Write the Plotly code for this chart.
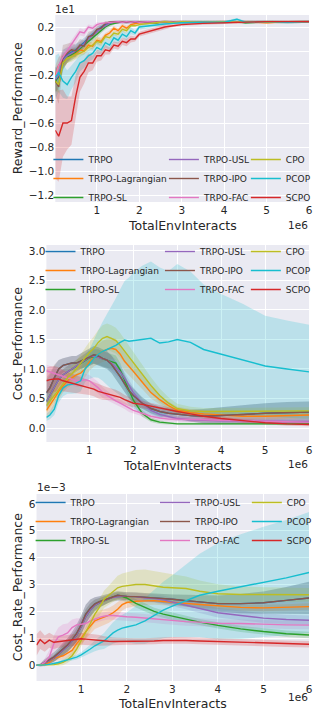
import plotly.graph_objects as go

# ---------------- data ----------------
NAMES = ["TRPO", "TRPO-Lagrangian", "TRPO-SL", "TRPO-USL", "TRPO-IPO",
         "TRPO-FAC", "CPO", "PCOP", "SCPO"]
COLORS = ["#1f77b4", "#ff7f0e", "#2ca02c", "#9467bd", "#8c564b",
          "#e377c2", "#bcbd22", "#17becf", "#d62728"]

# x in units of 1e6 interactions
X1 = [0.02, 0.1, 0.2, 0.3, 0.4, 0.5, 0.6, 0.7, 0.8, 0.9, 1.0, 1.1, 1.2, 1.3, 1.4, 1.5,
      1.6, 1.7, 1.8, 1.9, 2.0, 2.2, 2.4, 2.6, 2.8, 3.0, 3.5, 4.0, 4.3, 4.5, 5.0, 5.5, 6.0]
X2 = [0.02, 0.1, 0.2, 0.3, 0.4, 0.5, 0.6, 0.7, 0.8, 0.9, 1.0, 1.1, 1.2, 1.3, 1.4, 1.5,
      1.6, 1.7, 1.8, 1.9, 2.0, 2.2, 2.4, 2.6, 2.8, 3.0, 3.3, 3.6, 4.0, 4.5, 5.0, 5.5, 6.0]

# Reward_Performance (units of 1e1)
reward_TRPO = [-0.24, -0.22, -0.07, -0.03, -0.01, 0.01, 0.04, 0.07, 0.11, 0.14, 0.17, 0.20, 0.22, 0.235, 0.24, 0.245,
               0.24, 0.245, 0.24, 0.245, 0.24, 0.245, 0.24, 0.245, 0.24, 0.245, 0.24, 0.245, 0.24, 0.245, 0.24, 0.245, 0.245]
reward_LAG = [-0.20, -0.12, -0.08, -0.05, -0.03, -0.02, 0.01, 0.00, 0.05, 0.04, 0.09, 0.08, 0.13, 0.15, 0.19, 0.17,
              0.21, 0.19, 0.22, 0.23, 0.235, 0.24, 0.235, 0.245, 0.24, 0.245, 0.235, 0.245, 0.24, 0.245, 0.235, 0.245, 0.245]
reward_SL = [-0.26, -0.20, -0.10, -0.05, -0.03, -0.01, 0.02, 0.05, 0.08, 0.11, 0.14, 0.17, 0.20, 0.22, 0.23, 0.24,
             0.245, 0.24, 0.245, 0.24, 0.245, 0.24, 0.235, 0.245, 0.24, 0.24, 0.245, 0.24, 0.245, 0.235, 0.245, 0.24, 0.245]
reward_USL = [-0.24, -0.20, -0.08, -0.04, -0.02, 0.00, 0.03, 0.06, 0.10, 0.13, 0.16, 0.19, 0.21, 0.23, 0.24, 0.245,
              0.24, 0.245, 0.24, 0.245, 0.24, 0.245, 0.24, 0.245, 0.24, 0.245, 0.24, 0.245, 0.24, 0.245, 0.24, 0.245, 0.245]
reward_IPO = [-0.25, -0.30, -0.05, -0.02, 0.01, 0.00, 0.05, 0.04, 0.12, 0.13, 0.18, 0.19, 0.23, 0.24, 0.245, 0.24,
              0.245, 0.24, 0.245, 0.24, 0.245, 0.24, 0.245, 0.24, 0.245, 0.24, 0.245, 0.24, 0.245, 0.24, 0.245, 0.24, 0.245]
reward_FAC = [-0.22, -0.12, -0.05, 0.00, 0.05, 0.10, 0.16, 0.15, 0.20, 0.19, 0.22, 0.23, 0.235, 0.24, 0.245, 0.245,
              0.24, 0.245, 0.24, 0.245, 0.24, 0.245, 0.24, 0.245, 0.24, 0.245, 0.24, 0.245, 0.24, 0.245, 0.24, 0.245, 0.245]
reward_CPO = [-0.25, -0.28, -0.10, -0.06, -0.05, -0.03, -0.02, 0.00, 0.03, 0.05, 0.08, 0.07, 0.12, 0.11, 0.15, 0.14,
              0.18, 0.17, 0.21, 0.21, 0.22, 0.23, 0.24, 0.245, 0.235, 0.245, 0.24, 0.245, 0.24, 0.245, 0.24, 0.245, 0.245]
reward_PCOP = [-0.22, -0.18, -0.25, -0.28, -0.22, -0.17, -0.10, -0.08, -0.04, -0.02, 0.03, 0.01, 0.07, 0.05, 0.11, 0.09,
               0.14, 0.12, 0.17, 0.15, 0.20, 0.21, 0.22, 0.225, 0.23, 0.235, 0.24, 0.24, 0.265, 0.24, 0.245, 0.24, 0.245]
reward_SCPO = [-0.66, -0.71, -0.60, -0.60, -0.58, -0.38, -0.22, -0.17, -0.10, -0.10, -0.04, -0.04, 0.01, 0.00, 0.05, 0.04,
               0.08, 0.07, 0.10, 0.10, 0.14, 0.16, 0.18, 0.20, 0.21, 0.22, 0.23, 0.235, 0.24, 0.24, 0.245, 0.245, 0.245]

reward_sd_TRPO = [0.10, 0.10, 0.08, 0.06, 0.05, 0.05, 0.04, 0.04, 0.03, 0.03, 0.03, 0.02, 0.02, 0.01, 0.01, 0.01,
                  0.01, 0.01, 0.01, 0.01, 0.01, 0.01, 0.01, 0.01, 0.01, 0.01, 0.01, 0.01, 0.01, 0.01, 0.01, 0.01, 0.01]
reward_sd_LAG = [0.08, 0.07, 0.05, 0.05, 0.04, 0.04, 0.04, 0.03, 0.03, 0.03, 0.03, 0.03, 0.02, 0.02, 0.02, 0.02,
                 0.02, 0.02, 0.01, 0.01, 0.01, 0.01, 0.01, 0.01, 0.01, 0.01, 0.01, 0.01, 0.01, 0.01, 0.01, 0.01, 0.01]
reward_sd_SL = [0.10, 0.09, 0.06, 0.05, 0.05, 0.04, 0.04, 0.03, 0.03, 0.03, 0.03, 0.02, 0.02, 0.02, 0.01, 0.01,
                0.01, 0.01, 0.01, 0.01, 0.01, 0.01, 0.01, 0.01, 0.01, 0.01, 0.01, 0.01, 0.01, 0.01, 0.01, 0.01, 0.01]
reward_sd_USL = [0.10, 0.09, 0.06, 0.05, 0.05, 0.04, 0.04, 0.03, 0.03, 0.03, 0.03, 0.02, 0.02, 0.02, 0.01, 0.01,
                 0.01, 0.01, 0.01, 0.01, 0.01, 0.01, 0.01, 0.01, 0.01, 0.01, 0.01, 0.01, 0.01, 0.01, 0.01, 0.01, 0.01]
reward_sd_IPO = [0.12, 0.14, 0.10, 0.08, 0.06, 0.05, 0.05, 0.05, 0.04, 0.04, 0.03, 0.03, 0.02, 0.01, 0.01, 0.01,
                 0.01, 0.01, 0.01, 0.01, 0.01, 0.01, 0.01, 0.01, 0.01, 0.01, 0.01, 0.01, 0.01, 0.01, 0.01, 0.01, 0.01]
reward_sd_FAC = [0.08, 0.07, 0.05, 0.04, 0.04, 0.04, 0.03, 0.03, 0.02, 0.02, 0.02, 0.01, 0.01, 0.01, 0.01, 0.01,
                 0.01, 0.01, 0.01, 0.01, 0.01, 0.01, 0.01, 0.01, 0.01, 0.01, 0.01, 0.01, 0.01, 0.01, 0.01, 0.01, 0.01]
reward_sd_CPO = [0.08, 0.07, 0.05, 0.04, 0.04, 0.04, 0.03, 0.03, 0.03, 0.03, 0.03, 0.03, 0.02, 0.02, 0.02, 0.02,
                 0.02, 0.02, 0.01, 0.01, 0.01, 0.01, 0.01, 0.01, 0.01, 0.01, 0.01, 0.01, 0.01, 0.01, 0.01, 0.01, 0.01]
reward_sd_PCOP = [0.18, 0.16, 0.14, 0.12, 0.10, 0.09, 0.07, 0.06, 0.05, 0.05, 0.05, 0.04, 0.04, 0.04, 0.04, 0.03,
                  0.03, 0.03, 0.03, 0.02, 0.02, 0.02, 0.02, 0.01, 0.01, 0.01, 0.01, 0.01, 0.01, 0.01, 0.01, 0.01, 0.01]
reward_sd_SCPO = [0.40, 0.38, 0.28, 0.22, 0.20, 0.18, 0.12, 0.10, 0.08, 0.06, 0.05, 0.04, 0.04, 0.03, 0.03, 0.03,
                  0.03, 0.03, 0.03, 0.02, 0.02, 0.02, 0.02, 0.02, 0.01, 0.01, 0.01, 0.01, 0.01, 0.01, 0.01, 0.01, 0.01]

# Cost_Performance
cost_TRPO = [0.60, 0.68, 0.85, 1.00, 1.06, 1.08, 1.10, 1.10, 1.13, 1.17, 1.20, 1.24, 1.22, 1.18, 1.15, 1.08,
             0.98, 0.87, 0.75, 0.63, 0.55, 0.42, 0.33, 0.28, 0.25, 0.23, 0.21, 0.20, 0.21, 0.23, 0.25, 0.26, 0.27]
cost_LAG = [0.30, 0.38, 0.50, 0.62, 0.72, 0.80, 0.85, 0.90, 0.93, 1.00, 1.12, 1.20, 1.25, 1.30, 1.33, 1.35,
            1.33, 1.25, 1.13, 1.05, 0.96, 0.78, 0.60, 0.48, 0.38, 0.30, 0.26, 0.24, 0.22, 0.20, 0.20, 0.21, 0.22]
cost_SL = [0.45, 0.55, 0.70, 0.82, 0.90, 0.95, 1.00, 1.05, 1.10, 1.15, 1.19, 1.21, 1.20, 1.17, 1.15, 1.12,
           1.10, 0.98, 0.82, 0.63, 0.47, 0.25, 0.14, 0.10, 0.08, 0.07, 0.07, 0.07, 0.07, 0.07, 0.07, 0.07, 0.07]
cost_USL = [0.45, 0.55, 0.70, 0.82, 0.90, 0.95, 1.00, 1.05, 1.10, 1.15, 1.20, 1.22, 1.20, 1.17, 1.15, 1.10,
            1.03, 0.95, 0.84, 0.72, 0.60, 0.42, 0.30, 0.23, 0.19, 0.16, 0.14, 0.13, 0.12, 0.12, 0.11, 0.11, 0.11]
cost_IPO = [0.60, 0.68, 0.85, 1.00, 1.06, 1.08, 1.10, 1.10, 1.13, 1.17, 1.20, 1.24, 1.22, 1.18, 1.15, 1.08,
            0.98, 0.87, 0.75, 0.63, 0.55, 0.42, 0.33, 0.28, 0.25, 0.23, 0.21, 0.20, 0.21, 0.23, 0.25, 0.26, 0.27]
cost_FAC = [0.97, 0.95, 0.92, 0.90, 0.87, 0.85, 0.83, 0.80, 0.80, 0.82, 0.80, 0.74, 0.68, 0.60, 0.55, 0.50,
            0.46, 0.42, 0.38, 0.33, 0.30, 0.25, 0.20, 0.17, 0.15, 0.15, 0.14, 0.14, 0.13, 0.12, 0.11, 0.10, 0.10]
cost_CPO = [0.38, 0.45, 0.55, 0.65, 0.75, 0.85, 0.92, 1.00, 1.10, 1.20, 1.28, 1.35, 1.45, 1.52, 1.55, 1.52,
            1.48, 1.40, 1.30, 1.22, 1.12, 0.92, 0.72, 0.55, 0.42, 0.33, 0.29, 0.28, 0.28, 0.28, 0.28, 0.28, 0.29]
cost_PCOP = [0.18, 0.22, 0.32, 0.55, 0.68, 0.73, 0.74, 0.76, 0.80, 1.00, 1.08, 1.18, 1.25, 1.30, 1.33, 1.36,
             1.40, 1.45, 1.49, 1.47, 1.48, 1.50, 1.52, 1.44, 1.46, 1.50, 1.45, 1.33, 1.25, 1.15, 1.05, 1.00, 0.95]
cost_SCPO = [0.80, 0.82, 0.83, 0.83, 0.80, 0.78, 0.77, 0.75, 0.73, 0.70, 0.68, 0.66, 0.62, 0.60, 0.58, 0.57,
             0.55, 0.52, 0.48, 0.45, 0.42, 0.40, 0.37, 0.34, 0.30, 0.28, 0.24, 0.20, 0.16, 0.12, 0.09, 0.07, 0.06]

cost_sd_TRPO = [0.22, 0.22, 0.20, 0.15, 0.12, 0.12, 0.12, 0.12, 0.13, 0.14, 0.15, 0.15, 0.15, 0.15, 0.15, 0.15,
                0.15, 0.15, 0.14, 0.13, 0.12, 0.10, 0.08, 0.08, 0.08, 0.08, 0.10, 0.12, 0.14, 0.16, 0.17, 0.18, 0.18]
cost_sd_LAG = [0.15, 0.15, 0.15, 0.15, 0.12, 0.12, 0.12, 0.12, 0.13, 0.14, 0.15, 0.16, 0.17, 0.18, 0.18, 0.18,
               0.18, 0.17, 0.16, 0.15, 0.14, 0.12, 0.10, 0.08, 0.07, 0.06, 0.06, 0.06, 0.06, 0.06, 0.06, 0.06, 0.06]
cost_sd_SL = [0.15, 0.15, 0.15, 0.12, 0.10, 0.10, 0.10, 0.10, 0.10, 0.11, 0.12, 0.12, 0.13, 0.13, 0.13, 0.13,
              0.13, 0.12, 0.11, 0.10, 0.08, 0.06, 0.04, 0.03, 0.02, 0.02, 0.02, 0.02, 0.02, 0.02, 0.02, 0.02, 0.02]
cost_sd_USL = [0.15, 0.15, 0.15, 0.12, 0.10, 0.10, 0.10, 0.10, 0.10, 0.11, 0.12, 0.12, 0.13, 0.13, 0.13, 0.13,
               0.13, 0.12, 0.11, 0.10, 0.09, 0.07, 0.06, 0.05, 0.04, 0.04, 0.04, 0.04, 0.04, 0.04, 0.04, 0.04, 0.04]
cost_sd_IPO = [0.25, 0.25, 0.22, 0.15, 0.12, 0.12, 0.12, 0.12, 0.13, 0.14, 0.15, 0.15, 0.15, 0.15, 0.15, 0.15,
               0.15, 0.15, 0.14, 0.13, 0.12, 0.10, 0.08, 0.08, 0.08, 0.08, 0.10, 0.12, 0.14, 0.16, 0.17, 0.18, 0.18]
cost_sd_FAC = [0.10, 0.10, 0.10, 0.10, 0.10, 0.10, 0.10, 0.10, 0.10, 0.10, 0.10, 0.10, 0.10, 0.09, 0.08, 0.07,
               0.07, 0.06, 0.06, 0.06, 0.06, 0.05, 0.05, 0.04, 0.04, 0.04, 0.04, 0.03, 0.03, 0.03, 0.03, 0.03, 0.03]
cost_sd_CPO = [0.12, 0.12, 0.12, 0.12, 0.12, 0.12, 0.13, 0.14, 0.15, 0.16, 0.18, 0.20, 0.21, 0.22, 0.22, 0.22,
               0.22, 0.21, 0.20, 0.19, 0.18, 0.16, 0.14, 0.12, 0.10, 0.08, 0.07, 0.06, 0.06, 0.06, 0.06, 0.06, 0.06]
cost_sd_PCOP = [0.06, 0.07, 0.10, 0.12, 0.14, 0.15, 0.16, 0.17, 0.18, 0.22, 0.25, 0.32, 0.40, 0.50, 0.60, 0.70,
                0.80, 0.90, 1.00, 1.08, 1.15, 1.25, 1.30, 1.28, 1.20, 1.28, 1.20, 1.10, 1.02, 0.95, 0.85, 0.82, 0.80]
cost_sd_SCPO = [0.22, 0.22, 0.22, 0.20, 0.18, 0.17, 0.16, 0.15, 0.14, 0.13, 0.12, 0.12, 0.12, 0.12, 0.11, 0.10,
                0.10, 0.09, 0.08, 0.08, 0.07, 0.06, 0.06, 0.05, 0.05, 0.05, 0.04, 0.04, 0.03, 0.03, 0.03, 0.03, 0.03]

# Cost_Rate_Performance (units of 1e-3)
rate_TRPO = [0.00, 0.00, 0.10, 0.19, 0.30, 0.45, 0.60, 0.75, 0.95, 1.18, 1.50, 1.90, 2.12, 2.28, 2.36, 2.42,
             2.50, 2.56, 2.60, 2.58, 2.56, 2.55, 2.53, 2.50, 2.48, 2.45, 2.40, 2.35, 2.29, 2.29, 2.32, 2.41, 2.50]
rate_LAG = [0.00, 0.00, 0.05, 0.10, 0.25, 0.30, 0.35, 0.45, 0.55, 0.80, 1.00, 1.25, 1.45, 1.65, 1.72, 1.78,
            1.85, 1.95, 2.08, 2.25, 2.33, 2.38, 2.40, 2.40, 2.37, 2.35, 2.30, 2.26, 2.20, 2.15, 2.13, 2.15, 2.18]
rate_SL = [0.00, 0.00, 0.08, 0.16, 0.26, 0.40, 0.55, 0.70, 0.90, 1.12, 1.42, 1.80, 2.05, 2.22, 2.32, 2.40,
           2.47, 2.53, 2.56, 2.55, 2.50, 2.30, 2.15, 2.00, 1.90, 1.82, 1.72, 1.60, 1.48, 1.35, 1.25, 1.17, 1.12]
rate_USL = [0.00, 0.00, 0.08, 0.16, 0.26, 0.40, 0.55, 0.70, 0.90, 1.12, 1.42, 1.80, 2.05, 2.22, 2.32, 2.40,
            2.47, 2.52, 2.55, 2.56, 2.56, 2.55, 2.50, 2.48, 2.43, 2.35, 2.25, 2.12, 1.95, 1.85, 1.75, 1.70, 1.67]
rate_IPO = [0.00, 0.00, 0.10, 0.19, 0.30, 0.45, 0.60, 0.75, 0.95, 1.18, 1.50, 1.90, 2.12, 2.28, 2.36, 2.42,
            2.50, 2.56, 2.60, 2.58, 2.56, 2.55, 2.53, 2.50, 2.48, 2.45, 2.40, 2.35, 2.29, 2.29, 2.32, 2.41, 2.50]
rate_FAC = [0.00, 0.00, 0.10, 0.30, 0.80, 1.05, 1.12, 1.20, 1.40, 1.50, 1.52, 1.55, 1.65, 1.73, 1.78, 1.82,
            1.85, 1.85, 1.83, 1.82, 1.80, 1.78, 1.75, 1.72, 1.68, 1.65, 1.62, 1.60, 1.56, 1.55, 1.52, 1.50, 1.49]
rate_CPO = [0.00, 0.00, 0.00, 0.01, 0.02, 0.05, 0.10, 0.20, 0.35, 0.60, 0.90, 1.20, 1.55, 1.90, 2.15, 2.45,
            2.60, 2.75, 2.88, 2.93, 2.96, 3.00, 3.00, 2.95, 2.90, 2.88, 2.85, 2.75, 2.66, 2.63, 2.62, 2.62, 2.62]
rate_PCOP = [0.00, 0.00, 0.01, 0.03, 0.06, 0.10, 0.15, 0.20, 0.25, 0.30, 0.38, 0.48, 0.60, 0.72, 0.82, 0.90,
             1.05, 1.20, 1.30, 1.38, 1.42, 1.50, 1.65, 1.85, 2.05, 2.20, 2.40, 2.60, 2.75, 2.92, 3.10, 3.25, 3.45]
rate_SCPO = [0.75, 0.95, 0.80, 0.93, 0.85, 0.87, 0.88, 0.90, 0.92, 0.95, 0.98, 0.97, 0.95, 0.93, 0.92, 0.90,
             0.89, 0.88, 0.88, 0.88, 0.88, 0.88, 0.88, 0.90, 0.92, 0.93, 0.92, 0.90, 0.88, 0.85, 0.82, 0.80, 0.78]

rate_sd_TRPO = [0.02, 0.05, 0.12, 0.15, 0.18, 0.20, 0.22, 0.25, 0.28, 0.32, 0.35, 0.35, 0.32, 0.25, 0.20, 0.18,
                0.16, 0.15, 0.15, 0.15, 0.15, 0.15, 0.15, 0.15, 0.16, 0.18, 0.22, 0.26, 0.30, 0.36, 0.42, 0.50, 0.60]
rate_sd_LAG = [0.02, 0.03, 0.05, 0.08, 0.10, 0.12, 0.14, 0.16, 0.18, 0.20, 0.22, 0.25, 0.28, 0.30, 0.30, 0.30,
               0.28, 0.27, 0.25, 0.22, 0.20, 0.18, 0.16, 0.15, 0.14, 0.14, 0.13, 0.12, 0.12, 0.12, 0.12, 0.12, 0.12]
rate_sd_SL = [0.02, 0.03, 0.08, 0.10, 0.12, 0.15, 0.18, 0.20, 0.22, 0.25, 0.28, 0.28, 0.25, 0.22, 0.18, 0.16,
              0.15, 0.15, 0.15, 0.15, 0.15, 0.15, 0.15, 0.14, 0.14, 0.14, 0.13, 0.12, 0.12, 0.12, 0.12, 0.12, 0.12]
rate_sd_USL = [0.02, 0.03, 0.08, 0.10, 0.12, 0.15, 0.18, 0.20, 0.22, 0.25, 0.28, 0.28, 0.25, 0.22, 0.18, 0.16,
               0.15, 0.15, 0.15, 0.15, 0.15, 0.15, 0.15, 0.15, 0.16, 0.16, 0.17, 0.18, 0.18, 0.18, 0.18, 0.18, 0.18]
rate_sd_IPO = [0.02, 0.05, 0.12, 0.15, 0.18, 0.20, 0.22, 0.25, 0.28, 0.32, 0.35, 0.35, 0.32, 0.25, 0.20, 0.18,
               0.16, 0.15, 0.15, 0.15, 0.15, 0.15, 0.15, 0.15, 0.16, 0.18, 0.22, 0.26, 0.30, 0.36, 0.42, 0.50, 0.60]
rate_sd_FAC = [0.02, 0.05, 0.15, 0.25, 0.30, 0.35, 0.40, 0.35, 0.30, 0.25, 0.22, 0.20, 0.18, 0.16, 0.15, 0.15,
               0.15, 0.15, 0.15, 0.15, 0.15, 0.15, 0.15, 0.15, 0.15, 0.15, 0.15, 0.15, 0.15, 0.15, 0.15, 0.15, 0.15]
rate_sd_CPO = [0.01, 0.01, 0.02, 0.03, 0.05, 0.08, 0.10, 0.12, 0.15, 0.18, 0.20, 0.22, 0.25, 0.28, 0.30, 0.32,
               0.35, 0.40, 0.45, 0.48, 0.50, 0.54, 0.56, 0.55, 0.52, 0.50, 0.45, 0.40, 0.35, 0.30, 0.28, 0.26, 0.25]
rate_sd_PCOP = [0.01, 0.01, 0.02, 0.03, 0.04, 0.05, 0.06, 0.07, 0.08, 0.09, 0.10, 0.13, 0.16, 0.20, 0.25, 0.30,
                0.35, 0.40, 0.45, 0.50, 0.55, 0.70, 0.85, 0.95, 1.05, 1.15, 1.35, 1.55, 1.80, 1.95, 2.05, 2.15, 2.25]
rate_sd_SCPO = [0.40, 0.35, 0.30, 0.28, 0.25, 0.22, 0.22, 0.22, 0.22, 0.22, 0.22, 0.22, 0.22, 0.20, 0.20, 0.18,
                0.16, 0.15, 0.14, 0.13, 0.12, 0.12, 0.12, 0.12, 0.12, 0.12, 0.12, 0.12, 0.12, 0.12, 0.12, 0.12, 0.12]

# tick labels
X_TICKS = [1, 2, 3, 4, 5, 6]
Y1_TICKS = [-1.2, -1.0, -0.8, -0.6, -0.4, -0.2, 0.0, 0.2]
Y2_TICKS = [0.0, 0.5, 1.0, 1.5, 2.0, 2.5, 3.0]
Y3_TICKS = [0, 1, 2, 3, 4, 5, 6]

PANELS = [
    dict(x=X1, means=[reward_TRPO, reward_LAG, reward_SL, reward_USL, reward_IPO, reward_FAC,
                      reward_CPO, reward_PCOP, reward_SCPO],
         sds=[reward_sd_TRPO, reward_sd_LAG, reward_sd_SL, reward_sd_USL, reward_sd_IPO, reward_sd_FAC,
              reward_sd_CPO, reward_sd_PCOP, reward_sd_SCPO]),
    dict(x=X2, means=[cost_TRPO, cost_LAG, cost_SL, cost_USL, cost_IPO, cost_FAC,
                      cost_CPO, cost_PCOP, cost_SCPO],
         sds=[cost_sd_TRPO, cost_sd_LAG, cost_sd_SL, cost_sd_USL, cost_sd_IPO, cost_sd_FAC,
              cost_sd_CPO, cost_sd_PCOP, cost_sd_SCPO]),
    dict(x=X2, means=[rate_TRPO, rate_LAG, rate_SL, rate_USL, rate_IPO, rate_FAC,
                      rate_CPO, rate_PCOP, rate_SCPO],
         sds=[rate_sd_TRPO, rate_sd_LAG, rate_sd_SL, rate_sd_USL, rate_sd_IPO, rate_sd_FAC,
              rate_sd_CPO, rate_sd_PCOP, rate_sd_SCPO]),
]

# ---------------- figure ----------------
W, H = 317, 715
FONT = "DejaVu Sans"
TXT = "#262626"
BG = "#EAEAF2"


def rgba(hx, a):
    hx = hx.lstrip("#")
    return "rgba(%d,%d,%d,%.2f)" % (int(hx[0:2], 16), int(hx[2:4], 16), int(hx[4:6], 16), a)


def px_x(p):
    return p / W


def px_y(p):
    return 1 - p / H


fig = go.Figure()

for pi, panel in enumerate(PANELS):
    xa = "x" if pi == 0 else "x%d" % (pi + 1)
    ya = "y" if pi == 0 else "y%d" % (pi + 1)
    xs = panel["x"]
    # bands
    for k in range(len(NAMES)):
        m, s = panel["means"][k], panel["sds"][k]
        up = [a + b for a, b in zip(m, s)]
        lo = [a - b for a, b in zip(m, s)]
        fig.add_trace(go.Scatter(
            x=list(xs) + list(xs)[::-1], y=up + lo[::-1], fill="toself",
            fillcolor=rgba(COLORS[k], 0.22), line=dict(width=0), mode="lines",
            hoverinfo="skip", showlegend=False, xaxis=xa, yaxis=ya))
    # lines
    for k in range(len(NAMES)):
        col_idx = k // 3
        leg_id = pi * 3 + col_idx + 1
        fig.add_trace(go.Scatter(
            x=xs, y=panel["means"][k], mode="lines", name=NAMES[k],
            line=dict(color=COLORS[k], width=1.4),
            legend="legend" if leg_id == 1 else "legend%d" % leg_id,
            xaxis=xa, yaxis=ya))

# axes geometry (pixels)
GEOM = [
    dict(l=56, r=313, t=15, b=202, yr=[-1.258, 0.30], yt=Y1_TICKS, fmt=".1f"),
    dict(l=47, r=313, t=245, b=442, yr=[-0.237, 3.10], yt=Y2_TICKS, fmt=".1f"),
    dict(l=37, r=313, t=494, b=681, yr=[-0.59, 6.37], yt=Y3_TICKS, fmt="d"),
]
layout = dict(width=W, height=H, margin=dict(l=0, r=0, t=0, b=0),
              paper_bgcolor="white", plot_bgcolor=BG,
              font=dict(family=FONT, color=TXT, size=10.5))
for i, g in enumerate(GEOM):
    sx = "" if i == 0 else str(i + 1)
    layout["xaxis" + sx] = dict(
        domain=[px_x(g["l"]), px_x(g["r"])], anchor="y" + sx, range=[0.02, 6.0],
        tickvals=X_TICKS, showgrid=True, gridcolor="white", gridwidth=1,
        zeroline=False, showline=False, ticks="", tickfont=dict(size=10.5, color=TXT))
    layout["yaxis" + sx] = dict(
        domain=[px_y(g["b"]), px_y(g["t"])], anchor="x" + sx, range=g["yr"],
        tickvals=g["yt"], tickformat=g["fmt"], showgrid=True, gridcolor="white", gridwidth=1,
        zeroline=False, showline=False, ticks="", tickfont=dict(size=10.5, color=TXT))

# legends: three columns per panel
LEG_X = [[49, 166, 249], [41, 162, 249], [31, 157, 250]]
LEG_TOP = [145, 237, 488]
for pi in range(3):
    for c in range(3):
        lid = pi * 3 + c + 1
        key = "legend" if lid == 1 else "legend%d" % lid
        layout[key] = dict(x=px_x(LEG_X[pi][c]), y=px_y(LEG_TOP[pi]), xanchor="left", yanchor="top",
                           orientation="v", bgcolor="rgba(0,0,0,0)", borderwidth=0,
                           font=dict(size=9, color=TXT, family=FONT), itemwidth=30,
                           tracegroupgap=0)

fig.update_layout(**layout)

anns = []
# y-axis titles
YT = ["Reward_Performance", "Cost_Performance", "Cost_Rate_Performance"]
for g, t in zip(GEOM, YT):
    anns.append(dict(text=t, x=px_x(18), y=px_y((g["t"] + g["b"]) / 2), xref="paper", yref="paper",
                     xanchor="center", yanchor="middle", textangle=-90, showarrow=False,
                     font=dict(size=12.5, color=TXT, family=FONT)))
# x-axis titles and offsets
XT_Y = [226, 465, 703]
E6_Y = [225, 464, 697]
for g, ty, ey in zip(GEOM, XT_Y, E6_Y):
    anns.append(dict(text="TotalEnvInteracts", x=px_x((g["l"] + g["r"]) / 2), y=px_y(ty),
                     xref="paper", yref="paper", xanchor="center", yanchor="middle", showarrow=False,
                     font=dict(size=12.5, color=TXT, family=FONT)))
    anns.append(dict(text="1e6", x=px_x(g["r"] + 1), y=px_y(ey), xref="paper", yref="paper",
                     xanchor="right", yanchor="middle", showarrow=False,
                     font=dict(size=10.5, color=TXT, family=FONT)))
anns.append(dict(text="1e1", x=px_x(54), y=px_y(9), xref="paper", yref="paper",
                 xanchor="left", yanchor="middle", showarrow=False,
                 font=dict(size=10.5, color=TXT, family=FONT)))
anns.append(dict(text="1e\u22123", x=px_x(35), y=px_y(487), xref="paper", yref="paper",
                 xanchor="left", yanchor="middle", showarrow=False,
                 font=dict(size=10.5, color=TXT, family=FONT)))
fig.update_layout(annotations=anns)

fig.write_html("out.html", config={"displayModeBar": False},
               post_script="document.body.style.margin='0';document.body.style.overflow='hidden';")
